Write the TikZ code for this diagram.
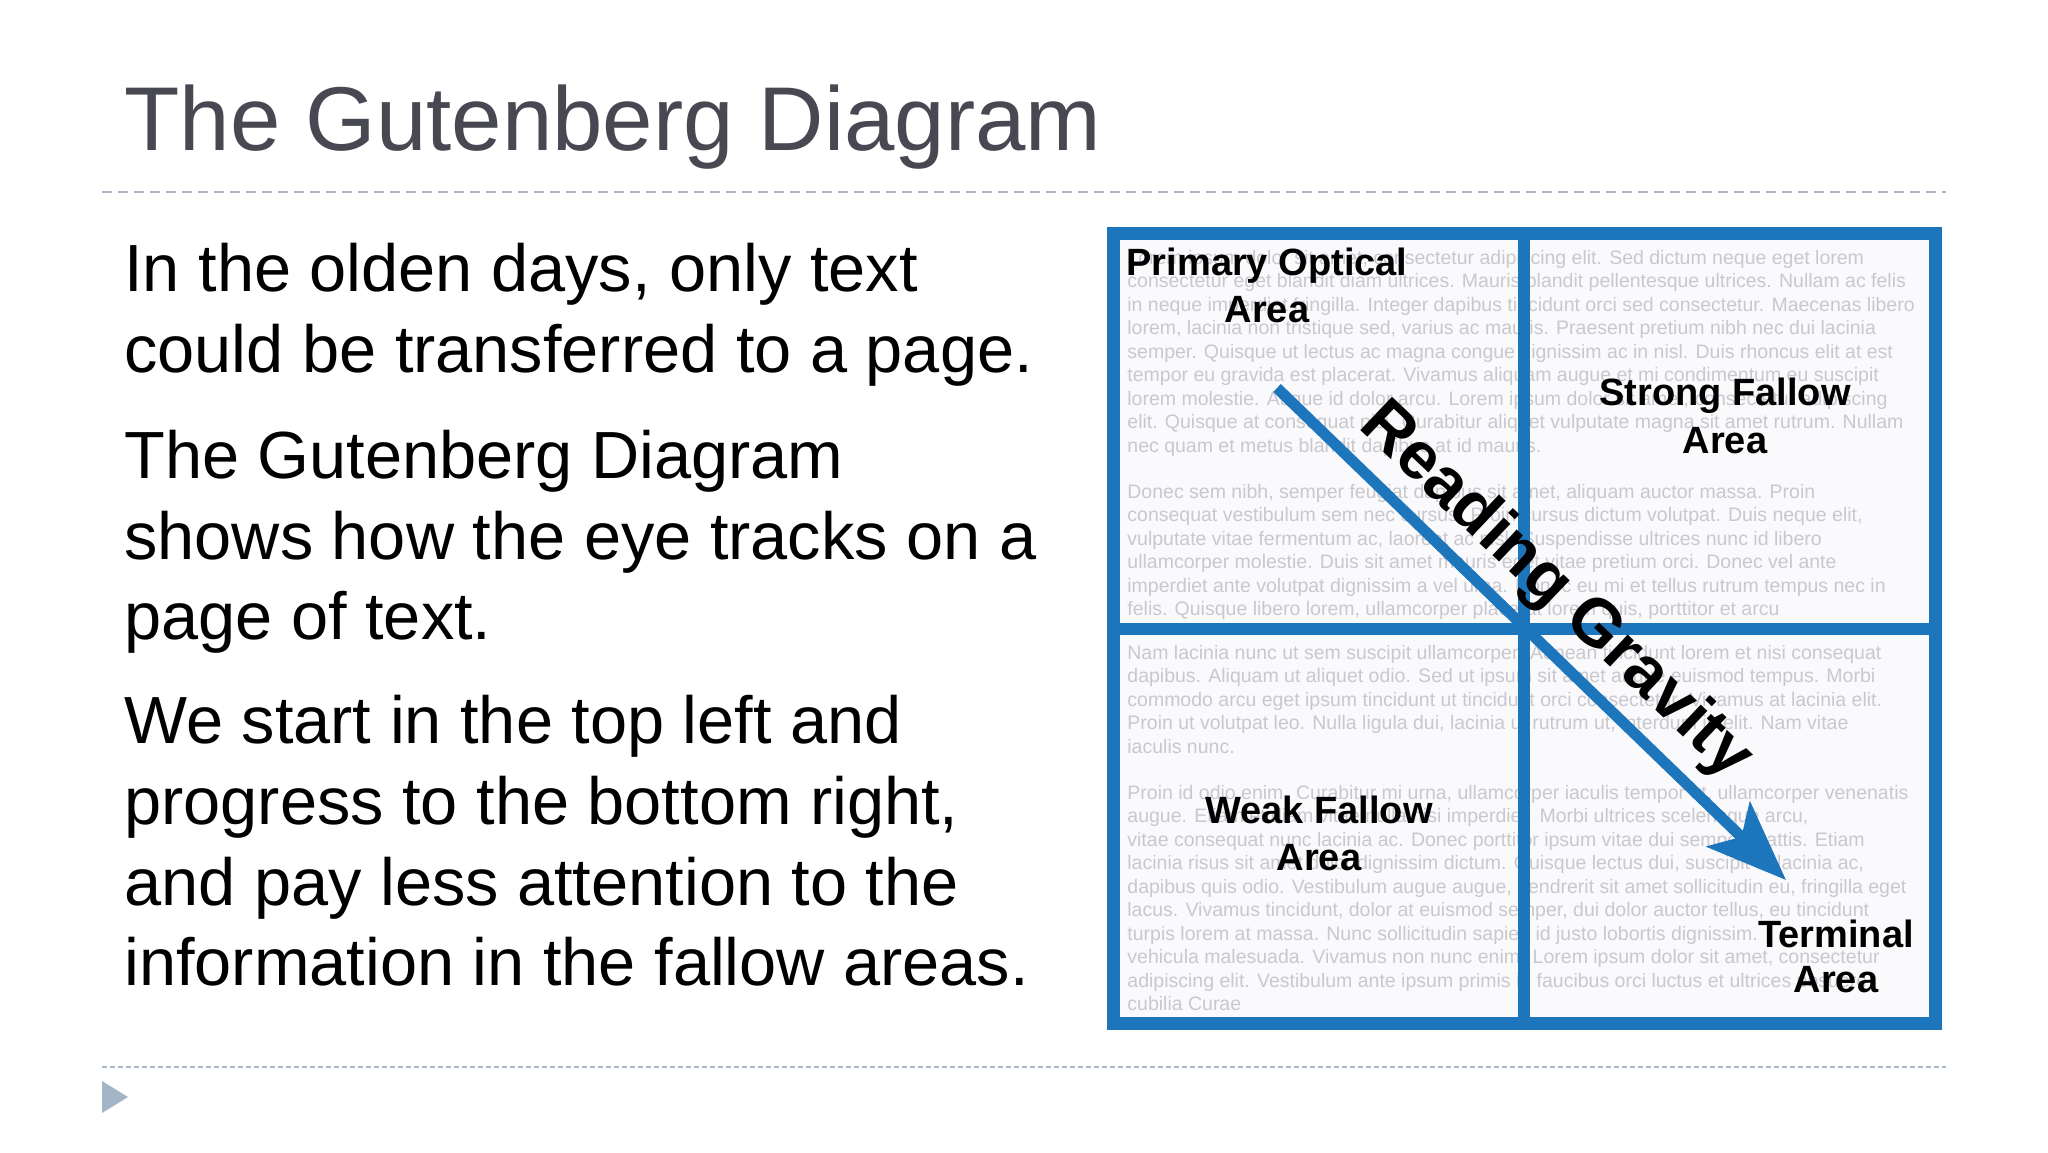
\documentclass[tikz,border=0pt]{standalone}
\usepackage{fontspec}
\setmainfont{Liberation Sans}
\usetikzlibrary{arrows.meta}
\definecolor{gblue}{RGB}{29,117,188}
\definecolor{titlegray}{RGB}{72,72,82}
\definecolor{rulegray}{RGB}{170,184,198}
\definecolor{trigray}{RGB}{165,181,200}
\definecolor{loremgray}{RGB}{200,200,206}
\definecolor{paper}{RGB}{250,250,252}
\begin{document}
\begin{tikzpicture}[x=0.5pt,y=-0.5pt,
  bodyline/.style={anchor=base west, inner sep=0pt, font=\fontsize{33.35}{40}\selectfont},
  lorem/.style={anchor=base west, inner sep=0pt, text=loremgray, font=\fontsize{9.75}{11}\selectfont},
  lab/.style={anchor=base, inner sep=0pt, font=\bfseries\fontsize{19}{23}\selectfont},
  frame/.style={draw=gblue, line width=6.5pt},
  divider/.style={draw=gblue, line width=6pt},
  rule/.style={draw=rulegray, line width=1pt}]
\useasboundingbox (0,0) rectangle (2048,1152);
\fill[white] (0,0) rectangle (2048,1152);

% title
\node[anchor=base west, inner sep=0pt, text=titlegray, font=\fontsize{45.3}{54}\selectfont] (title) at (124,150) {The Gutenberg Diagram};

% rules
\coordinate (rt1) at (102,192); \coordinate (rt2) at (1946,192);
\coordinate (rb1) at (102,1067); \coordinate (rb2) at (1946,1067);
\draw[rule, dash pattern=on 5pt off 3pt] (rt1) -- (rt2);
\draw[rule, dash pattern=on 2.5pt off 1.5pt] (rb1) -- (rb2);
\fill[trigray] (102,1081) -- (128,1097) -- (102,1113) -- cycle;

% body text
\node[bodyline] (b1) at (124,291) {In the olden days, only text};
\node[bodyline] (b2) at (124,372) {could be transferred to a page.};
\node[bodyline] (b3) at (124,478) {The Gutenberg Diagram};
\node[bodyline] (b4) at (124,559) {shows how the eye tracks on a};
\node[bodyline] (b5) at (124,639) {page of text.};
\node[bodyline] (b6) at (124,743) {We start in the top left and};
\node[bodyline] (b7) at (124,824) {progress to the bottom right,};
\node[bodyline] (b8) at (124,905) {and pay less attention to the};
\node[bodyline] (b9) at (124,985) {information in the fallow areas.};

% diagram background
\fill[paper] (1113,233) rectangle (1935,1024);

% lorem text
\node[lorem] (l1) at (1127,264) {Lorem ipsum dolor sit amet, consectetur adipiscing elit. Sed dictum neque eget lorem};
\node[lorem] (l2) at (1127,287.5) {consectetur eget blandit diam ultrices. Mauris blandit pellentesque ultrices. Nullam ac felis};
\node[lorem] (l3) at (1127,311) {in neque imperdiet fringilla. Integer dapibus tincidunt orci sed consectetur. Maecenas libero};
\node[lorem] (l4) at (1127,334.5) {lorem, lacinia non tristique sed, varius ac mauris. Praesent pretium nibh nec dui lacinia};
\node[lorem] (l5) at (1127,358) {semper. Quisque ut lectus ac magna congue dignissim ac in nisl. Duis rhoncus elit at est};
\node[lorem] (l6) at (1127,381.5) {tempor eu gravida est placerat. Vivamus aliquam augue et mi condimentum eu suscipit};
\node[lorem] (l7) at (1127,405) {lorem molestie. Augue id dolor arcu. Lorem ipsum dolor sit amet, consectetur adipiscing};
\node[lorem] (l8) at (1127,428.5) {elit. Quisque at consequat nisi. Curabitur aliquet vulputate magna sit amet rutrum. Nullam};
\node[lorem] (l9) at (1127,452) {nec quam et metus blandit dapibus at id mauris.};
\node[lorem] (l10) at (1127,498) {Donec sem nibh, semper feugiat dapibus sit amet, aliquam auctor massa. Proin};
\node[lorem] (l11) at (1127,521.5) {consequat vestibulum sem nec cursus. Proin cursus dictum volutpat. Duis neque elit,};
\node[lorem] (l12) at (1127,545) {vulputate vitae fermentum ac, laoreet ac nisl. Suspendisse ultrices nunc id libero};
\node[lorem] (l13) at (1127,568.5) {ullamcorper molestie. Duis sit amet mauris eget vitae pretium orci. Donec vel ante};
\node[lorem] (l14) at (1127,592) {imperdiet ante volutpat dignissim a vel urna. Donec eu mi et tellus rutrum tempus nec in};
\node[lorem] (l15) at (1127,615.5) {felis. Quisque libero lorem, ullamcorper placerat lorem quis, porttitor et arcu};
\node[lorem] (l16) at (1127,659) {Nam lacinia nunc ut sem suscipit ullamcorper. Aenean tincidunt lorem et nisi consequat};
\node[lorem] (l17) at (1127,682.5) {dapibus. Aliquam ut aliquet odio. Sed ut ipsum sit amet augue euismod tempus. Morbi};
\node[lorem] (l18) at (1127,706) {commodo arcu eget ipsum tincidunt ut tincidunt orci consectetur. Vivamus at lacinia elit.};
\node[lorem] (l19) at (1127,729.5) {Proin ut volutpat leo. Nulla ligula dui, lacinia ut rutrum ut, interdum in elit. Nam vitae};
\node[lorem] (l20) at (1127,753) {iaculis nunc.};
\node[lorem] (l21) at (1127,799) {Proin id odio enim. Curabitur mi urna, ullamcorper iaculis tempor ut, ullamcorper venenatis};
\node[lorem] (l22) at (1127,822.5) {augue. Etiam et diam vitae nulla nisi imperdiet. Morbi ultrices scelerisque arcu,};
\node[lorem] (l23) at (1127,846) {vitae consequat nunc lacinia ac. Donec porttitor ipsum vitae dui semper mattis. Etiam};
\node[lorem] (l24) at (1127,869.5) {lacinia risus sit amet dolor dignissim dictum. Quisque lectus dui, suscipit at lacinia ac,};
\node[lorem] (l25) at (1127,893) {dapibus quis odio. Vestibulum augue augue, hendrerit sit amet sollicitudin eu, fringilla eget};
\node[lorem] (l26) at (1127,916.5) {lacus. Vivamus tincidunt, dolor at euismod semper, dui dolor auctor tellus, eu tincidunt};
\node[lorem] (l27) at (1127,940) {turpis lorem at massa. Nunc sollicitudin sapien id justo lobortis dignissim.};
\node[lorem] (l28) at (1127,963.5) {vehicula malesuada. Vivamus non nunc enim. Lorem ipsum dolor sit amet, consectetur};
\node[lorem] (l29) at (1127,987) {adipiscing elit. Vestibulum ante ipsum primis in faucibus orci luctus et ultrices posuere};
\node[lorem] (l30) at (1127,1010.5) {cubilia Curae};

% frame and dividers
\draw[frame] (1113,233.5) rectangle (1935,1023.5);
\draw[divider] (1524,233.5) -- (1524,1023.5);
\draw[divider] (1113,628.5) -- (1935,628.5);

% labels
\node[lab] (po1) at (1267,275) {Primary Optical};
\node[lab] (po2) at (1267,322) {Area};
\node[lab] (sf1) at (1725,405) {Strong Fallow};
\node[lab] (sf2) at (1725,453) {Area};
\node[lab] (wf1) at (1319,823) {Weak Fallow};
\node[lab] (wf2) at (1319,870) {Area};
\node[lab] (ta1) at (1836,947) {Terminal};
\node[lab] (ta2) at (1836,992) {Area};

% reading gravity arrow
\coordinate (as) at (1277,388);
\coordinate (at) at (1786,880);
\draw[gblue, line width=5.5pt, -{Stealth[length=40pt,width=31pt,inset=9pt]}] (as) -- (at);
\node[anchor=base west, inner sep=0pt, rotate=-43.5, font=\bfseries\fontsize{33.5}{40}\selectfont] (rg) at (1357,427) {Reading Gravity};
\end{tikzpicture}
\end{document}
